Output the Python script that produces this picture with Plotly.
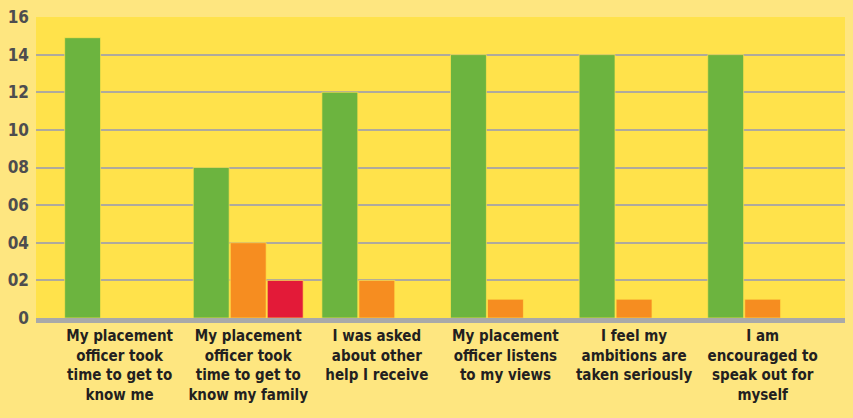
import plotly.graph_objects as go

# categories and series
categories = [
    "My placement<br>officer took<br>time to get to<br>know me",
    "My placement<br>officer took<br>time to get to<br>know my family",
    "I was asked<br>about other<br>help I receive",
    "My placement<br>officer listens<br>to my views",
    "I feel my<br>ambitions are<br>taken seriously",
    "I am<br>encouraged to<br>speak out for<br>myself",
]
green_vals = [14.9, 8, 12, 14, 14, 14]
orange_vals = [0, 4, 2, 1, 1, 1]
red_vals = [0, 2, 0, 0, 0, 0]

y_ticks = [0, 2, 4, 6, 8, 10, 12, 14, 16]
y_labels = ["0", "02", "04", "06", "08", "10", "12", "14", "16"]

FONT = "'Liberation Sans Narrow', 'DejaVu Sans Condensed', sans-serif"
PAPER = "#FEE680"
PLOT = "#FFE24B"

fig = go.Figure()
for name, vals, col in [("Yes", green_vals, "#6CB43F"),
                        ("Sometimes", orange_vals, "#F68D20"),
                        ("No", red_vals, "#E31A38")]:
    fig.add_trace(go.Bar(
        x=categories, y=vals, name=name,
        marker=dict(color=col, line=dict(color="rgba(255,226,75,0.7)", width=1)),
        showlegend=False,
    ))

fig.update_layout(
    width=853, height=418,
    paper_bgcolor=PAPER,
    plot_bgcolor=PLOT,
    margin=dict(l=36, r=8, t=17, b=100),
    barmode="group",
    bargap=0.137,
    bargroupgap=0.03,
    xaxis=dict(
        range=[-0.65, 5.64],
        showgrid=False,
        showline=True, linecolor="#A9A9A9", linewidth=5,
        ticks="", ticklen=0, tickangle=0, automargin=False,
        tickfont=dict(family=FONT, size=15, color="#231F20", weight="bold"),
    ),
    yaxis=dict(
        range=[0, 16],
        tickvals=y_ticks, ticktext=y_labels,
        showgrid=True, gridcolor="#AFAA9C", gridwidth=1.5,
        zeroline=False, automargin=False,
        ticks="", ticklabelstandoff=6,
        tickfont=dict(family=FONT, size=17, color="#4D4D4F", weight="bold"),
    ),
)

# page has a default 8px body margin; drop it so the figure sits at 0,0
fig.write_html(
    "out.html",
    config={"displayModeBar": False},
    post_script="document.body.style.margin='0';"
                "document.body.style.background='" + PAPER + "';",
)
